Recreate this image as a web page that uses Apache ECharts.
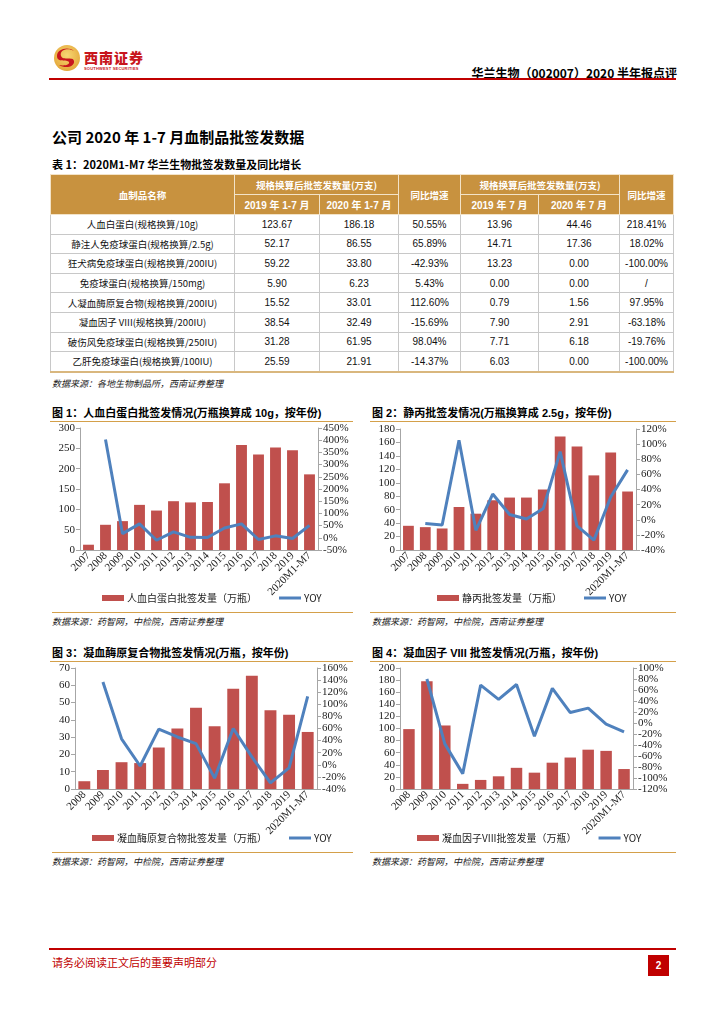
<!DOCTYPE html>
<html><head><meta charset="utf-8">
<script src="https://cdn.jsdelivr.net/npm/echarts@6/dist/echarts.min.js"></script>
<style>
html,body{margin:0;padding:0;background:#fff;}
body{width:724px;height:1024px;position:relative;overflow:hidden;font-family:"Liberation Sans","Noto Sans CJK SC",sans-serif;}
.abs{position:absolute;}
.cn{font-family:"Noto Sans CJK SC",sans-serif;}
.figt{position:absolute;font-family:"Liberation Sans","Noto Sans CJK SC",sans-serif;font-weight:bold;font-size:11px;color:#000;white-space:nowrap;}
.oline{position:absolute;height:1px;background:#d4a04a;}
.src{position:absolute;font-family:"Noto Sans CJK SC",sans-serif;font-style:italic;font-size:9px;color:#222;white-space:nowrap;}
table{border-collapse:collapse;table-layout:fixed;}
td{padding:0;text-align:center;font-size:10px;color:#111;white-space:nowrap;overflow:hidden;}
.hd td{background:#c8923f;color:#fff;font-weight:bold;border:1px solid #f3e3c8;font-family:"Noto Sans CJK SC",sans-serif;font-size:9.5px;}
.hd td.num{font-family:"Liberation Sans","Noto Sans CJK SC",sans-serif;font-size:10px;}
.bd td{border:1px solid #c8c8c8;height:18.6px;}
.bd td.nm{font-family:"Noto Sans CJK SC","Liberation Sans",sans-serif;font-size:9.5px;}
.chart{position:absolute;}
</style></head>
<body>
<!-- header -->
<svg class="abs" style="left:53px;top:44px" width="28" height="28" viewBox="0 0 28 28">
 <defs><radialGradient id="g" cx="50%" cy="40%" r="60%"><stop offset="0" stop-color="#f7d774"/><stop offset="1" stop-color="#e4a83a"/></radialGradient></defs>
 <circle cx="14" cy="14" r="13" fill="url(#g)"/>
 <path d="M21 7 C15 3,6 6,8 12 C10 17,20 12,21 17 C22 23,12 25,6 21 C11 22,17 21,16 18 C14 15,4 19,4 12 C4 5,15 2,21 7Z" fill="#c8161d"/>
</svg>
<div class="abs cn" style="left:84px;top:47px;font-size:14px;font-weight:900;color:#c8161d;letter-spacing:1px;">西南证券</div>
<div class="abs" style="left:84px;top:66px;font-size:4px;font-weight:bold;color:#c8161d;letter-spacing:0.2px;">SOUTHWEST SECURITIES</div>
<div class="abs cn" style="right:47px;top:64px;font-size:12px;font-weight:bold;color:#000;">华兰生物（002007）2020 半年报点评</div>
<div class="abs" style="left:49px;top:78px;width:627px;height:2px;background:#c00000;"></div>

<div class="abs cn" style="left:52px;top:126px;font-size:15px;font-weight:bold;color:#000;">公司 2020 年 1-7 月血制品批签发数据</div>
<div class="abs cn" style="left:52px;top:156px;font-size:11px;font-weight:bold;color:#000;">表 1：2020M1-M7 华兰生物批签发数量及同比增长</div>

<table id="tbl" class="abs" style="left:50px;top:174px;width:623px;"></table>
<div class="src" style="left:52px;top:377px;">数据来源：各地生物制品所，西南证券整理</div>

<div class="figt" style="left:52px;top:404px;">图 1：人血白蛋白批签发情况(万瓶换算成 10g，按年份)</div>
<div class="oline" style="left:50px;top:421px;width:303px;"></div>
<div class="figt" style="left:372px;top:404px;">图 2：静丙批签发情况(万瓶换算成 2.5g，按年份)</div>
<div class="oline" style="left:370px;top:421px;width:306px;"></div>
<div id="c1" class="chart" style="left:50px;top:422px;width:310px;height:190px;"></div>
<div id="c2" class="chart" style="left:366px;top:422px;width:314px;height:190px;"></div>
<div class="oline" style="left:52px;top:612px;width:301px;"></div>
<div class="oline" style="left:370px;top:612px;width:306px;"></div>
<div class="src" style="left:52px;top:615px;">数据来源：药智网，中检院，西南证券整理</div>
<div class="src" style="left:372px;top:615px;">数据来源：药智网，中检院，西南证券整理</div>

<div class="figt" style="left:52px;top:644px;">图 3：凝血酶原复合物批签发情况(万瓶，按年份)</div>
<div class="oline" style="left:50px;top:661px;width:303px;"></div>
<div class="figt" style="left:372px;top:644px;">图 4：凝血因子 VIII 批签发情况(万瓶，按年份)</div>
<div class="oline" style="left:370px;top:661px;width:306px;"></div>
<div id="c3" class="chart" style="left:50px;top:662px;width:310px;height:190px;"></div>
<div id="c4" class="chart" style="left:366px;top:662px;width:314px;height:190px;"></div>
<div class="oline" style="left:52px;top:852px;width:301px;"></div>
<div class="oline" style="left:370px;top:852px;width:306px;"></div>
<div class="src" style="left:52px;top:855px;">数据来源：药智网，中检院，西南证券整理</div>
<div class="src" style="left:372px;top:855px;">数据来源：药智网，中检院，西南证券整理</div>

<!-- footer -->
<div class="abs" style="left:49px;top:948px;width:627px;height:1.5px;background:#c00000;"></div>
<div class="abs cn" style="left:52px;top:954px;font-size:11px;color:#c00000;">请务必阅读正文后的重要声明部分</div>
<div class="abs" style="left:648px;top:955px;width:21px;height:21px;background:#c00000;color:#fff;font-size:10px;font-weight:bold;text-align:center;line-height:21px;">2</div>

<script>
// ---------- table data ----------
const tableNames = ['人血白蛋白(规格换算/10g)','静注人免疫球蛋白(规格换算/2.5g)','狂犬病免疫球蛋白(规格换算/200IU)','免疫球蛋白(规格换算/150mg)','人凝血酶原复合物(规格换算/200IU)','凝血因子 VIII(规格换算/200IU)','破伤风免疫球蛋白(规格换算/250IU)','乙肝免疫球蛋白(规格换算/100IU)'];
const t2019M1M7 = ['123.67','52.17','59.22','5.90','15.52','38.54','31.28','25.59'];
const t2020M1M7 = ['186.18','86.55','33.80','6.23','33.01','32.49','61.95','21.91'];
const tYoyM1M7 = ['50.55%','65.89%','-42.93%','5.43%','112.60%','-15.69%','98.04%','-14.37%'];
const t2019M7 = ['13.96','14.71','13.23','0.00','0.79','7.90','7.71','6.03'];
const t2020M7 = ['44.46','17.36','0.00','0.00','1.56','2.91','6.18','0.00'];
const tYoyM7 = ['218.41%','18.02%','-100.00%','/','97.95%','-63.18%','-19.76%','-100.00%'];

// ---------- chart data ----------
const cats1 = ['2007','2008','2009','2010','2011','2012','2013','2014','2015','2016','2017','2018','2019','2020M1-M7'];
const albumin = [13, 62, 71, 111, 97, 120, 117, 118, 164, 258, 235, 252, 245, 186];
const albuminYoy = [null, 403, 17, 57, -10, 24, 2, 1, 40, 57, -7, 8, -3, 51];
const ivig = [36, 34, 32, 64, 54, 74, 78, 78, 90, 169, 154, 111, 145, 87];
const ivigYoy = [null, -5, -7, 105, -14, 34, 7, 1, 15, 90, -8, -27, 30, 66];
const cats3 = ['2008','2009','2010','2011','2012','2013','2014','2015','2016','2017','2018','2019','2020M1-M7'];
const pcc = [4.5, 11, 15.5, 15, 24, 35, 47, 36.3, 58, 65.5, 45.5, 43, 33];
const pccYoy = [null, 137, 43, -2, 59, 46, 35, -22, 60, 13, -30, -5, 113];
const f8 = [99, 178, 105, 8.5, 15, 21, 35, 27, 43.5, 52, 65, 63, 33];
const f8Yoy = [null, 80, -38, -92, 69, 43, 70, -24, 63, 19, 27, -2, -16];

// ---------- build table ----------
(function(){
  const w = [184, 85, 79, 62, 78, 81, 54];
  let h = '<colgroup>' + w.map(x=>'<col style="width:'+x+'px">').join('') + '</colgroup>';
  h += '<tr class="hd"><td rowspan="2" style="height:39px">血制品名称</td><td colspan="2" style="height:19px">规格换算后批签发数量(万支)</td><td rowspan="2">同比增速</td><td colspan="2">规格换算后批签发数量(万支)</td><td rowspan="2">同比增速</td></tr>';
  h += '<tr class="hd"><td class="num" style="height:19px">2019 年 1-7 月</td><td class="num">2020 年 1-7 月</td><td class="num">2019 年 7 月</td><td class="num">2020 年 7 月</td></tr>';
  for (let i=0;i<tableNames.length;i++){
    const last = i===tableNames.length-1 ? ' style="border-bottom:2px solid #d9b77e"' : '';
    h += '<tr class="bd"'+last+'><td class="nm">'+tableNames[i]+'</td><td>'+t2019M1M7[i]+'</td><td>'+t2020M1M7[i]+'</td><td>'+tYoyM1M7[i]+'</td><td>'+t2019M7[i]+'</td><td>'+t2020M7[i]+'</td><td>'+tYoyM7[i]+'</td></tr>';
  }
  document.getElementById('tbl').innerHTML = h;
})();

// ---------- charts ----------
const BAR = '#c0504d', LINE = '#4f81bd', AX = '#a6a6a6';
const serif = 'Liberation Serif';
function makeChart(id, cats, bars, yoy, barName, L, R, grid, legendLeft, gap){
  const c = echarts.init(document.getElementById(id), null, {renderer:'canvas'});
  const yCommon = {
    axisLine:{show:true, lineStyle:{color:AX}},
    axisTick:{show:true, length:4, lineStyle:{color:AX}},
    splitLine:{show:false},
    axisLabel:{fontFamily:serif, fontSize:11, color:'#222', margin:5}
  };
  c.setOption({
    animation:false,
    grid: grid,
    legend:{
      left: legendLeft, top: 166, itemGap: gap, itemWidth: 22, itemHeight: 6,
      textStyle:{fontFamily:'Noto Sans CJK SC', fontSize:10, color:'#222', padding:[0,0,0,-2]},
      data:[{name:barName, icon:'rect'}, {name:'YOY', icon:'path://M0,0H22V3H0Z', itemStyle:{color:LINE}}]
    },
    xAxis:{
      type:'category', data:cats,
      axisLine:{lineStyle:{color:AX}},
      axisTick:{show:false},
      axisLabel:{rotate:45, interval:0, fontFamily:serif, fontSize:11, color:'#222', margin:4}
    },
    yAxis:[
      Object.assign({type:'value', min:L[0], max:L[1], interval:L[2]}, yCommon),
      Object.assign({type:'value', min:R[0], max:R[1], interval:R[2], position:'right'}, yCommon,
        {axisLabel:Object.assign({}, yCommon.axisLabel, {formatter:'{value}%'})})
    ],
    series:[
      {name:barName, type:'bar', data:bars, barCategoryGap:'36%', itemStyle:{color:BAR}},
      {name:'YOY', type:'line', yAxisIndex:1, data:yoy, symbol:'none', showSymbol:false, lineStyle:{color:LINE, width:3}, itemStyle:{color:LINE}}
    ]
  });
}
makeChart('c1', cats1, albumin, albuminYoy, '人血白蛋白批签发量（万瓶）', [0,300,50], [-50,450,50],
  {left:30, right:42, top:6, bottom:62}, 47, 22);
makeChart('c2', cats1, ivig, ivigYoy, '静丙批签发量（万瓶）', [0,180,20], [-40,120,20],
  {left:34, right:44, top:7, bottom:62}, 66, 22);
makeChart('c3', cats3, pcc, pccYoy, '凝血酶原复合物批签发量（万瓶）', [0,70,10], [-40,160,20],
  {left:25, right:43, top:6, bottom:63}, 37, 22);
makeChart('c4', cats3, f8, f8Yoy, '凝血因子VIII批签发量（万瓶）', [0,200,20], [-120,100,20],
  {left:34, right:47, top:6, bottom:63}, 46, 22);
</script>
</body></html>
